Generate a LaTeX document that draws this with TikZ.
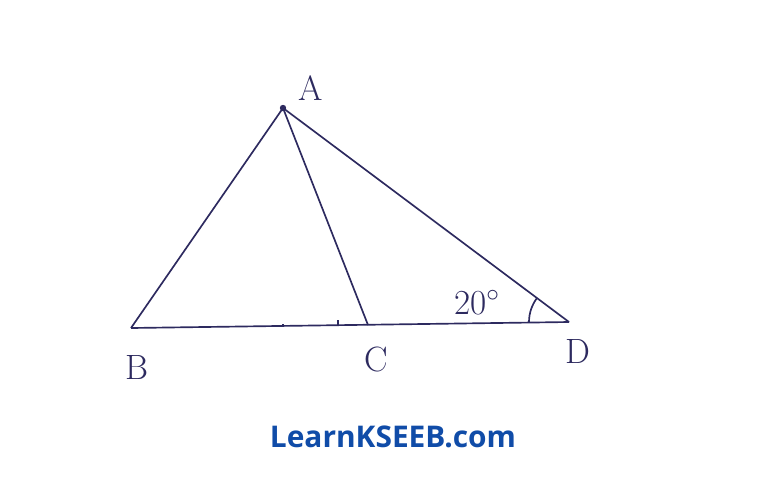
\documentclass[tikz,border=0pt]{standalone}
\usepackage{fontspec}
\usepackage{tikz}
\usetikzlibrary{positioning}
\newfontfamily\sitefont{Open Sans}
\definecolor{inkblue}{RGB}{45,42,95}
\definecolor{siteblue}{RGB}{16,76,168}

\begin{document}
\begin{tikzpicture}[
                x=0.02cm, y=-0.02cm,
                pointlabel/.style={text=inkblue, font=\fontsize{20}{22}\selectfont, inner sep=0pt},
                edge/.style={draw=inkblue, line width=0.95pt},
                tick/.style={draw=inkblue, line width=1.6pt},
                sitelabel/.style={text=siteblue, font=\sitefont\bfseries\fontsize{17}{20}\selectfont, inner sep=0pt},
            ]
            \useasboundingbox (0,0) rectangle (768,485);

            % Nodes
            \coordinate (A) at (283,108);
            \coordinate (B) at (131,328);
            \coordinate (C) at (368,325);
            \coordinate (D) at (569,322);
            \coordinate (tick_1) at (283,326);
            \coordinate (tick_2) at (338,325);

            \node[pointlabel]       (label_A)   at (311,88)     {A};
            \node[pointlabel]       (label_B)   at (137,367)    {B};
            \node[pointlabel]       (label_C)   at (376,359)    {C};
            \node[pointlabel]       (label_D)   at (578,351)    {D};
            \node[pointlabel]       (angle_D)   at (477,303)    {20$^\circ$};

            \node[sitelabel]        (site)      at (393,437)    {LearnKSEEB.com};

            %Lines
            \draw[edge] (A) -- (B);
            \draw[edge] (A) -- (C);
            \draw[edge] (A) -- (D);
            \draw[edge] (B) -- (D);
            \fill[inkblue] (A) circle (3.2);

            \draw[tick] (tick_1) -- ++(0,-2);
            \draw[tick] (tick_2) -- ++(0,-5);

            \draw[edge] (D) ++(180:40) arc[start angle=180, end angle=217, radius=40];
        \end{tikzpicture}
\end{document}
